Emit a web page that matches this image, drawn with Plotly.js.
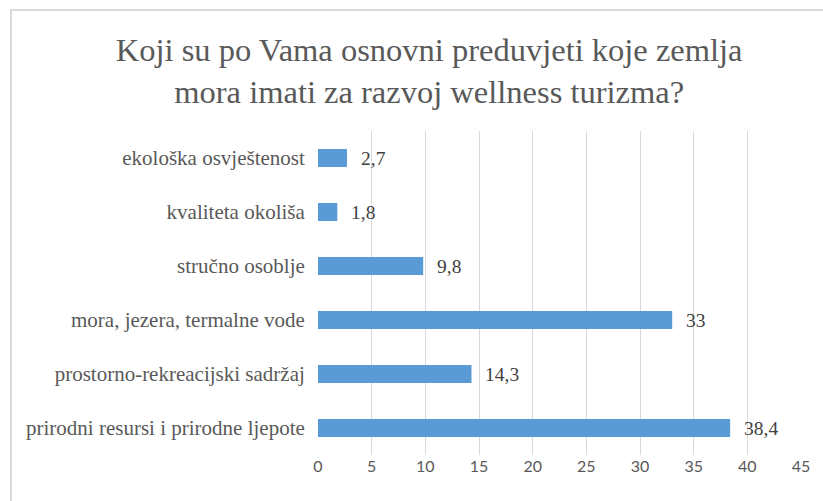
<!DOCTYPE html>
<html>
<head>
<meta charset="utf-8">
<script src="https://cdn.plot.ly/plotly-3.0.1.min.js"></script>
<style>html,body{margin:0;padding:0;background:#fff;}#chart{width:823px;height:501px;}</style>
</head>
<body>
<div id="chart"></div>
<script>
const categories = [
  "prirodni resursi i prirodne ljepote",
  "prostorno-rekreacijski sadržaj",
  "mora, jezera, termalne vode",
  "stručno osoblje",
  "kvaliteta okoliša",
  "ekološka osvještenost"
];
const values = [38.4, 14.3, 33, 9.8, 1.8, 2.7];
const xTicks = [0, 5, 10, 15, 20, 25, 30, 35, 40, 45];
const titleText = "Koji su po Vama osnovni preduvjeti koje zemlja<br>mora imati za razvoj wellness turizma?";

const SERIF = "Liberation Serif";
const fmt = v => String(v).replace('.', ',');

const trace = {
  type: 'bar',
  orientation: 'h',
  x: values,
  y: categories,
  marker: {color: '#5B9BD5'},
  hoverinfo: 'skip'
};

const annotations = values.map((v, i) => ({
  x: v, y: categories[i], xref: 'x', yref: 'y',
  text: fmt(v), showarrow: false, xanchor: 'left', xshift: 12,
  font: {family: SERIF, size: 19.5, color: '#404040'}
}));

const layout = {
  width: 823, height: 501,
  margin: {l: 318, r: 22, t: 131, b: 46},
  paper_bgcolor: '#fff', plot_bgcolor: '#fff',
  bargap: 0.667,
  showlegend: false,
  title: {
    text: titleText,
    x: 0.5215, xref: 'container', xanchor: 'center',
    y: 0.878, yref: 'container', yanchor: 'middle',
    font: {family: SERIF, size: 32.5, color: '#595959'}
  },
  xaxis: {
    range: [0, 45],
    tickvals: xTicks,
    ticktext: xTicks.map(String),
    showgrid: true, gridcolor: '#d9d9d9', gridwidth: 1,
    zeroline: false, showline: false, ticks: '',
    tickfont: {family: "Lato", size: 16, color: '#595959'},
    fixedrange: true
  },
  yaxis: {
    type: 'category',
    categoryorder: 'array', categoryarray: categories,
    showgrid: false, zeroline: false, showline: false,
    ticks: 'outside', ticklen: 8, tickcolor: 'rgba(0,0,0,0)',
    tickfont: {family: SERIF, size: 21, color: '#595959'},
    fixedrange: true
  },
  annotations: annotations,
  shapes: [{
    type: 'path', xref: 'paper', yref: 'paper',
    path: 'M -0.6356,-0.3 L -0.6356,1.3735 L 1.2,1.3735',
    line: {color: '#d9d9d9', width: 2}
  }]
};

Plotly.newPlot('chart', [trace], layout, {displayModeBar: false, staticPlot: true});
</script>
</body>
</html>
